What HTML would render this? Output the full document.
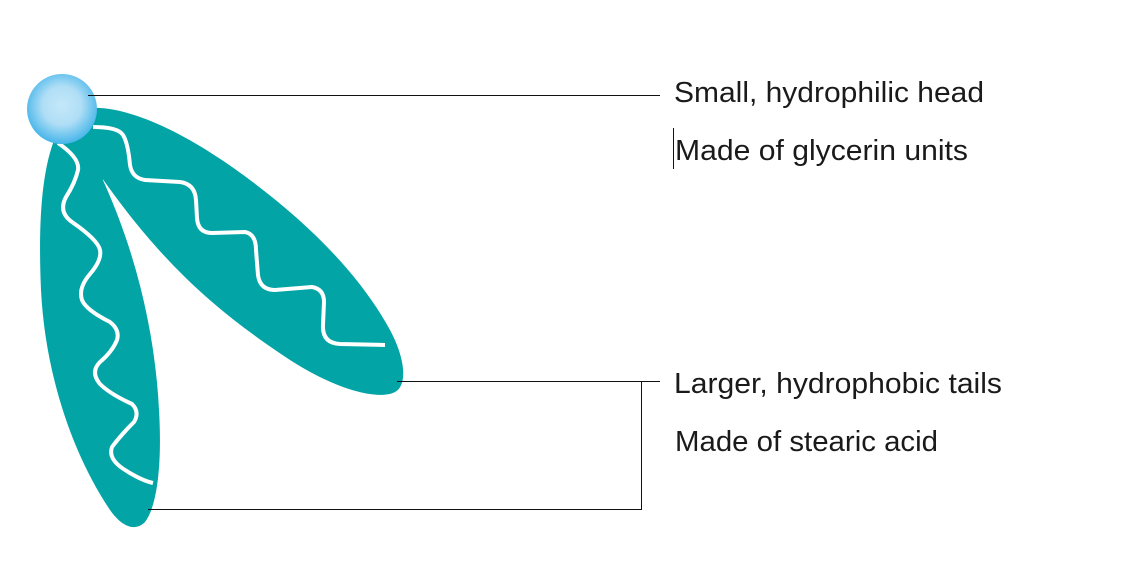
<!DOCTYPE html>
<html>
<head>
<meta charset="utf-8">
<style>
html,body{margin:0;padding:0;background:#fff;}
svg{display:block;}
text{font-family:"Liberation Sans",sans-serif;fill:#1a1a1a;font-size:29px;}
</style>
</head>
<body>
<svg width="1125" height="583" viewBox="0 0 1125 583">
  <defs>
    <radialGradient id="headGrad" cx="0.5" cy="0.45" r="0.55">
      <stop offset="0" stop-color="#c4e8f9"/>
      <stop offset="0.5" stop-color="#b0def6"/>
      <stop offset="1" stop-color="#45b5e9"/>
    </radialGradient>
  </defs>

  <!-- tails -->
  <path fill="#02a4a6"
    d="M55,138 C42,170 38,220 41,290 C45,370 70,450 110,510 C122,527 135,532 145,522 C158,505 162,460 159,410 C155,330 135,250 102,178 C92,160 82,145 70,138 Z"/>
  <path fill="#02a4a6"
    d="M88,108 C130,105 190,135 250,180 C310,225 360,275 390,330 C405,358 408,385 395,392 C380,400 340,392 290,360 C230,320 170,275 102,178 C92,160 82,135 80,120 Z"/>
  <path fill="#02a4a6"
    d="M55,130 L95,105 L112,150 L103,180 L90,168 Z"/>

  <!-- wavy chains -->
  <path fill="none" stroke="#fff" stroke-width="4" stroke-linejoin="round"
    d="M58,143 Q80,158 78,170 Q75,183 66,197 Q58,212 72,222 Q98,240 100,250 Q102,260 90,274 Q78,288 82,300 Q86,310 110,322 Q120,330 117,340 Q112,352 100,362 Q90,372 100,384 Q110,394 132,404 Q140,412 134,422 Q120,436 112,447 Q108,458 122,468 Q140,480 153,483"/>
  <path fill="none" stroke="#fff" stroke-width="4" stroke-linejoin="round"
    d="M93,127 Q118,127 123,135 Q128,143 130,165 Q132,178 145,180 L180,182 Q195,184 196,200 L197,218 Q198,233 212,233 L245,232 Q256,234 256,250 L258,275 Q260,290 275,290 L312,287 Q324,289 324,302 L323,325 Q322,343 340,344 L385,345"/>

  <!-- head -->
  <circle cx="62" cy="109" r="35" fill="url(#headGrad)"/>

  <!-- leader lines -->
  <g stroke="#111" stroke-width="1" shape-rendering="crispEdges">
    <line x1="88" y1="95.5" x2="660" y2="95.5"/>
    <line x1="397" y1="381.5" x2="660" y2="381.5"/>
    <line x1="148" y1="509.5" x2="641" y2="509.5"/>
    <line x1="641.5" y1="381" x2="641.5" y2="510"/>
    <line x1="673.5" y1="128" x2="673.5" y2="169"/>
  </g>

  <!-- labels -->
  <text x="674" y="102" textLength="310" lengthAdjust="spacingAndGlyphs">Small, hydrophilic head</text>
  <text x="675" y="160" textLength="293" lengthAdjust="spacingAndGlyphs">Made of glycerin units</text>
  <text x="674" y="393" textLength="328" lengthAdjust="spacingAndGlyphs">Larger, hydrophobic tails</text>
  <text x="675" y="451" textLength="263" lengthAdjust="spacingAndGlyphs">Made of stearic acid</text>
</svg>
</body>
</html>
